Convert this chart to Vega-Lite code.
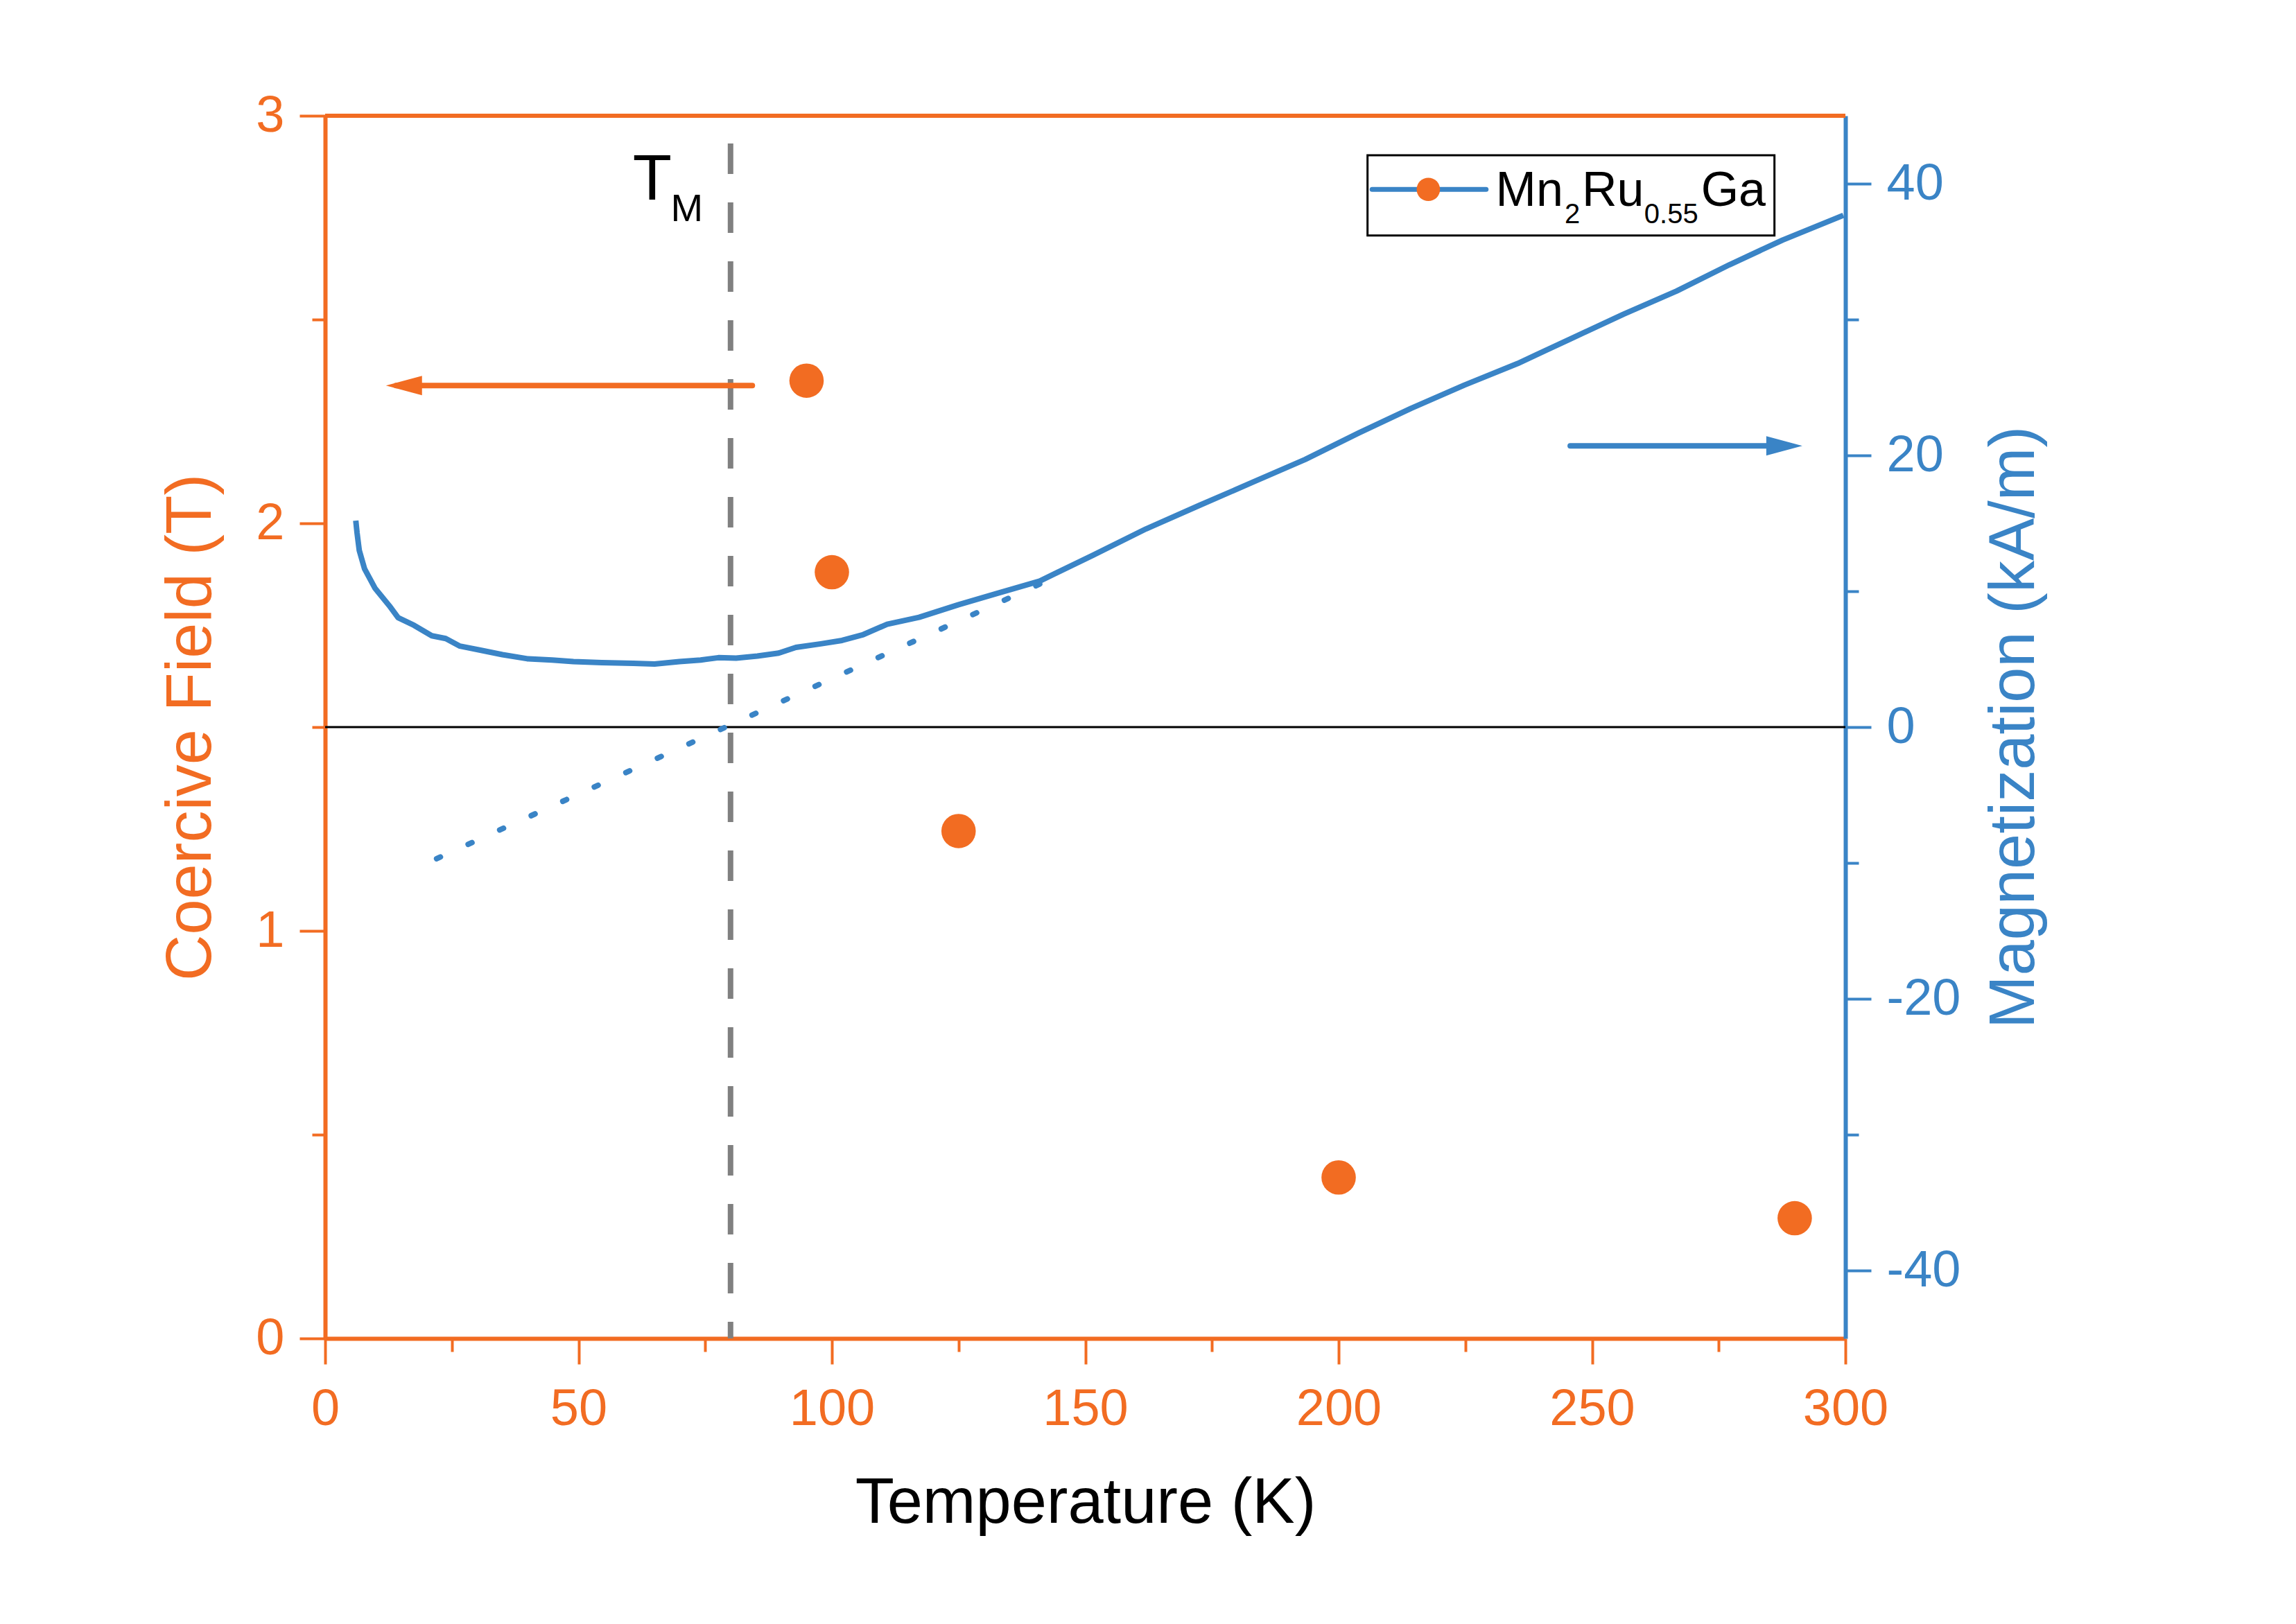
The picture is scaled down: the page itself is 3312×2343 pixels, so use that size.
{
  "$schema": "https://vega.github.io/schema/vega-lite/v6.json",
  "width": 2193,
  "height": 1764,
  "autosize": {"type": "none"},
  "padding": {"left": 469, "top": 167, "right": 650, "bottom": 412},
  "background": "white",
  "config": {
    "view": {"stroke": null},
    "axis": {
      "labelFont": "Liberation Sans",
      "titleFont": "Liberation Sans",
      "titleFontWeight": "normal",
      "grid": false,
      "labelFlush": false,
      "labelOverlap": false
    },
    "text": {"font": "Liberation Sans"}
  },
  "datasets": {
    "coercive": [
      {"T": 95, "Hc": 2.35},
      {"T": 100, "Hc": 1.88},
      {"T": 125, "Hc": 1.245},
      {"T": 200, "Hc": 0.395},
      {"T": 290, "Hc": 0.295}
    ],
    "magnetization": [
      {"T": 6.05, "M": 15.2},
      {"T": 6.3, "M": 14.3},
      {"T": 6.74, "M": 13.0},
      {"T": 7.78, "M": 11.65},
      {"T": 9.88, "M": 10.2},
      {"T": 12.67, "M": 8.93},
      {"T": 14.4, "M": 8.05},
      {"T": 17.55, "M": 7.49},
      {"T": 21.05, "M": 6.72},
      {"T": 23.8, "M": 6.52},
      {"T": 26.6, "M": 5.96},
      {"T": 30.8, "M": 5.65},
      {"T": 35.0, "M": 5.33},
      {"T": 39.9, "M": 5.03},
      {"T": 44.8, "M": 4.94},
      {"T": 49.0, "M": 4.82},
      {"T": 54.6, "M": 4.74},
      {"T": 60.8, "M": 4.69},
      {"T": 65.0, "M": 4.64},
      {"T": 69.9, "M": 4.82},
      {"T": 74.1, "M": 4.94},
      {"T": 77.6, "M": 5.11},
      {"T": 81.1, "M": 5.08},
      {"T": 85.3, "M": 5.23},
      {"T": 89.5, "M": 5.45},
      {"T": 92.9, "M": 5.87},
      {"T": 97.8, "M": 6.13},
      {"T": 102.0, "M": 6.38},
      {"T": 106.2, "M": 6.81},
      {"T": 110.9, "M": 7.57},
      {"T": 117.2, "M": 8.08},
      {"T": 124.9, "M": 9.0},
      {"T": 132.6, "M": 9.84},
      {"T": 141.0, "M": 10.75},
      {"T": 151.5, "M": 12.65},
      {"T": 162.0, "M": 14.59},
      {"T": 172.4, "M": 16.3},
      {"T": 182.9, "M": 18.0},
      {"T": 193.4, "M": 19.7},
      {"T": 203.9, "M": 21.64},
      {"T": 214.3, "M": 23.46},
      {"T": 224.8, "M": 25.17},
      {"T": 235.3, "M": 26.76},
      {"T": 245.7, "M": 28.57},
      {"T": 256.2, "M": 30.39},
      {"T": 266.7, "M": 32.1},
      {"T": 277.1, "M": 34.03},
      {"T": 287.6, "M": 35.85},
      {"T": 299.6, "M": 37.67}
    ],
    "extrapolation": [
      {"T": 22, "M": -9.69},
      {"T": 142, "M": 10.7}
    ],
    "legendText": [
      {"s": "Mn", "T": 231.0, "M": 38.36},
      {"s": "Ru", "T": 248.0, "M": 38.36},
      {"s": "Ga", "T": 271.5, "M": 38.36}
    ],
    "legendSub": [
      {"s": "2", "T": 244.6, "M": 37.09},
      {"s": "0.55", "T": 260.3, "M": 37.09}
    ]
  },
  "encoding": {
    "x": {
      "field": "T",
      "type": "quantitative",
      "scale": {"domain": [0, 300], "nice": false},
      "axis": {
        "orient": "bottom",
        "title": "Temperature (K)",
        "values": [0, 25, 50, 75, 100, 125, 150, 175, 200, 225, 250, 275, 300],
        "labelExpr": "datum.value % 50 === 0 ? '' + datum.value : ''",
        "domainColor": "#F26C22",
        "domainWidth": 6,
        "tickColor": "#F26C22",
        "tickWidth": 4,
        "tickSize": {"condition": {"test": "datum.value % 50 === 0", "value": 37}, "value": 19},
        "labelColor": "#F26C22",
        "labelFontSize": 74,
        "labelPadding": 29,
        "titleColor": "black",
        "titleFontSize": 92,
        "titlePadding": 53
      }
    }
  },
  "layer": [
    {
      "encoding": {
        "y": {
          "field": "Hc",
          "type": "quantitative",
          "scale": {"domain": [0, 3], "nice": false},
          "axis": {
            "orient": "left",
            "title": "Coercive Field (T)",
            "values": [0, 0.5, 1, 1.5, 2, 2.5, 3],
            "labelExpr": "datum.value % 1 === 0 ? '' + datum.value : ''",
            "domainColor": "#F26C22",
            "domainWidth": 6,
            "tickColor": "#F26C22",
            "tickWidth": 4,
            "tickSize": {"condition": {"test": "datum.value % 1 === 0", "value": 37}, "value": 19},
            "labelColor": "#F26C22",
            "labelFontSize": 74,
            "labelPadding": 22,
            "titleColor": "#F26C22",
            "titleFontSize": 92,
            "titlePadding": 46
          }
        }
      },
      "layer": [
        {
          "data": {"values": [{"T": 0, "T2": 300, "Hc": 3}]},
          "mark": {"type": "rule", "color": "#F26C22", "strokeWidth": 6},
          "encoding": {"x2": {"field": "T2"}}
        },
        {
          "data": {"values": [{"T": 80, "Hc": 2.932, "Hc2": 0}]},
          "mark": {"type": "rule", "color": "#808080", "strokeWidth": 8, "strokeDash": [44, 41]},
          "encoding": {"y2": {"field": "Hc2"}}
        },
        {
          "data": {"values": [{"T": 14, "T2": 84.3, "Hc": 2.338}]},
          "mark": {"type": "rule", "color": "#F26C22", "strokeWidth": 8, "strokeCap": "round"},
          "encoding": {"x2": {"field": "T2"}}
        },
        {
          "data": {"values": [{"T": 12.0, "Hc": 2.338}]},
          "mark": {"type": "point", "shape": "M 0 0 L 2 -0.54 L 2 0.54 Z", "size": 2704, "filled": true, "color": "#F26C22", "opacity": 1},
          "encoding": {}
        },
        {
          "data": {"name": "coercive"},
          "mark": {"type": "point", "shape": "circle", "filled": true, "size": 2460, "color": "#F26C22", "opacity": 1},
          "encoding": {}
        },
        {
          "data": {"values": [{"s": "T", "T": 60.7, "Hc": 2.795}]},
          "mark": {"type": "text", "fontSize": 92, "align": "left", "baseline": "alphabetic", "color": "black"},
          "encoding": {"text": {"field": "s"}}
        },
        {
          "data": {"values": [{"s": "M", "T": 68.2, "Hc": 2.741}]},
          "mark": {"type": "text", "fontSize": 56, "align": "left", "baseline": "alphabetic", "color": "black"},
          "encoding": {"text": {"field": "s"}}
        }
      ]
    },
    {
      "encoding": {
        "y": {
          "field": "M",
          "type": "quantitative",
          "scale": {"domain": [-45, 45], "nice": false},
          "axis": {
            "orient": "right",
            "title": "Magnetization (kA/m)",
            "values": [-40, -30, -20, -10, 0, 10, 20, 30, 40],
            "labelExpr": "datum.value % 20 === 0 ? '' + datum.value : ''",
            "domainColor": "#3A84C6",
            "domainWidth": 6,
            "tickColor": "#3A84C6",
            "tickWidth": 4,
            "tickSize": {"condition": {"test": "datum.value % 20 === 0", "value": 37}, "value": 19},
            "labelColor": "#3A84C6",
            "labelFontSize": 74,
            "labelPadding": 22,
            "titleColor": "#3A84C6",
            "titleFontSize": 92,
            "titleAngle": 270,
            "titleBaseline": "top",
            "titlePadding": 33
          }
        }
      },
      "layer": [
        {
          "data": {"values": [{"T": 0, "T2": 300, "M": 0}]},
          "mark": {"type": "rule", "color": "black", "strokeWidth": 3},
          "encoding": {"x2": {"field": "T2"}}
        },
        {
          "data": {"name": "extrapolation"},
          "mark": {"type": "line", "color": "#3A84C6", "strokeWidth": 8, "strokeDash": [6, 44], "strokeCap": "round"},
          "encoding": {}
        },
        {
          "data": {"name": "magnetization"},
          "mark": {"type": "line", "color": "#3A84C6", "strokeWidth": 8, "strokeJoin": "round"},
          "encoding": {}
        },
        {
          "data": {"values": [{"T": 245.7, "T2": 289, "M": 20.7}]},
          "mark": {"type": "rule", "color": "#3A84C6", "strokeWidth": 8, "strokeCap": "round"},
          "encoding": {"x2": {"field": "T2"}}
        },
        {
          "data": {"values": [{"T": 291.5, "M": 20.7}]},
          "mark": {"type": "point", "shape": "M 0 0 L -2 -0.54 L -2 0.54 Z", "size": 2704, "filled": true, "color": "#3A84C6", "opacity": 1},
          "encoding": {}
        },
        {
          "data": {"values": [{"T": 205.7, "T2": 286.0, "M": 42.09, "M2": 36.18}]},
          "mark": {"type": "rect", "fill": "white", "stroke": "black", "strokeWidth": 3},
          "encoding": {"x2": {"field": "T2"}, "y2": {"field": "M2"}}
        },
        {
          "data": {"values": [{"T": 206.6, "T2": 229.1, "M": 39.58}]},
          "mark": {"type": "rule", "color": "#3A84C6", "strokeWidth": 7, "strokeCap": "round"},
          "encoding": {"x2": {"field": "T2"}}
        },
        {
          "data": {"values": [{"T": 217.7, "M": 39.58}]},
          "mark": {"type": "point", "shape": "circle", "filled": true, "size": 1134, "color": "#F26C22", "opacity": 1},
          "encoding": {}
        },
        {
          "data": {"name": "legendText"},
          "mark": {"type": "text", "fontSize": 70, "align": "left", "baseline": "alphabetic", "color": "black"},
          "encoding": {"text": {"field": "s"}}
        },
        {
          "data": {"name": "legendSub"},
          "mark": {"type": "text", "fontSize": 40, "align": "left", "baseline": "alphabetic", "color": "black"},
          "encoding": {"text": {"field": "s"}}
        }
      ]
    }
  ],
  "resolve": {"scale": {"y": "independent"}}
}
